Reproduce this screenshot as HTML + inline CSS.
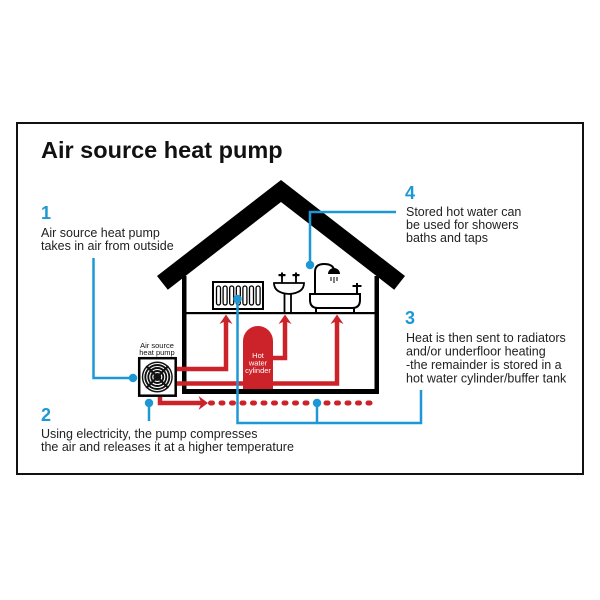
<!DOCTYPE html>
<html><head><meta charset="utf-8"><style>
html,body{margin:0;padding:0;background:#fff;}
svg{display:block;}
text{font-family:"Liberation Sans",Arial,sans-serif;}
</style></head><body>
<svg width="600" height="600" viewBox="0 0 600 600" xmlns="http://www.w3.org/2000/svg">
<rect x="0" y="0" width="600" height="600" fill="#fff"/>
<rect x="17" y="123" width="566" height="351" fill="none" stroke="#111" stroke-width="2"/>

<text x="41" y="158" font-size="23.5" font-weight="bold" fill="#111">Air source heat pump</text>

<!-- text 1 -->
<text x="41" y="219" font-size="18" font-weight="bold" fill="#1e98d4">1</text>
<text x="41" y="237" font-size="12.5" fill="#222">Air source heat pump</text>
<text x="41" y="250" font-size="12.5" fill="#222">takes in air from outside</text>

<!-- text 4 -->
<text x="405" y="199" font-size="18" font-weight="bold" fill="#1e98d4">4</text>
<text x="406" y="216" font-size="12.5" fill="#222">Stored hot water can</text>
<text x="406" y="229" font-size="12.5" fill="#222">be used for showers</text>
<text x="406" y="242" font-size="12.5" fill="#222">baths and taps</text>

<!-- text 3 -->
<text x="405" y="324" font-size="18" font-weight="bold" fill="#1e98d4">3</text>
<text x="406" y="342" font-size="12.5" fill="#222">Heat is then sent to radiators</text>
<text x="406" y="355.5" font-size="12.5" fill="#222">and/or underfloor heating</text>
<text x="406" y="369" font-size="12.5" fill="#222">-the remainder is stored in a</text>
<text x="406" y="382.5" font-size="12.5" fill="#222">hot water cylinder/buffer tank</text>

<!-- text 2 -->
<text x="41" y="421" font-size="18" font-weight="bold" fill="#1e98d4">2</text>
<text x="41" y="438" font-size="12.5" fill="#222">Using electricity, the pump compresses</text>
<text x="41" y="451" font-size="12.5" fill="#222">the air and releases it at a higher temperature</text>

<!-- roof -->
<polygon points="157,276 281,180 405,276 394.2,289.7 281,202 167.8,289.7" fill="#000"/>
<!-- walls -->
<rect x="182" y="276" width="4.5" height="118" fill="#000"/>
<rect x="374.5" y="276" width="4.5" height="118" fill="#000"/>
<rect x="182" y="389" width="197" height="5" fill="#000"/>
<rect x="186" y="312" width="189" height="2.2" fill="#000"/>

<!-- radiator -->
<rect x="213" y="282" width="50" height="27" fill="#fff" stroke="#000" stroke-width="2"/>
<g fill="none" stroke="#000" stroke-width="1.3">
<rect x="216.5" y="286" width="4" height="19" rx="2"/>
<rect x="223.1" y="286" width="4" height="19" rx="2"/>
<rect x="229.7" y="286" width="4" height="19" rx="2"/>
<rect x="236.3" y="286" width="4" height="19" rx="2"/>
<rect x="242.9" y="286" width="4" height="19" rx="2"/>
<rect x="249.5" y="286" width="4" height="19" rx="2"/>
<rect x="256.1" y="286" width="4" height="19" rx="2"/>
</g>

<!-- sink -->
<g fill="none" stroke="#000" stroke-width="1.8">
<path d="M274,283 H304 Q304,293 289,294 Q274,293 274,283 Z" fill="#fff"/>
<path d="M284.5,294 V312 M291,294 V312"/>
<path d="M282,283 V277 M296,283 V277"/>
</g>
<g fill="#000">
<rect x="278.5" y="274" width="7" height="2.2"/>
<rect x="292.5" y="274" width="7" height="2.2"/>
<rect x="281" y="272.5" width="2" height="5"/>
<rect x="295" y="272.5" width="2" height="5"/>
</g>

<!-- bath -->
<g fill="none" stroke="#000" stroke-width="2">
<path d="M310,294 H360 V300 Q360,308 352,308 H318 Q310,308 310,300 Z" fill="#fff"/>
<path d="M316,308 V312 M354,308 V312"/>
<path d="M315,294 V272 Q315,264 324,264 Q333,264 334,270"/>
<path d="M357,294 V287"/>
</g>
<path d="M328,274 A6,6 0 0 1 340,274 Z" fill="#000"/>
<g stroke="#000" stroke-width="1">
<path d="M331,277 V281 M334,277 V283 M337,277 V281"/>
</g>
<g fill="#000">
<rect x="352.5" y="285" width="9" height="2"/>
<rect x="356" y="283" width="2" height="4"/>
</g>

<!-- red pipes -->
<g fill="none" stroke="#cc2229" stroke-width="4.5">
<path d="M175,369 H226 V320"/>
<path d="M175,383.5 H337 V320"/>
<path d="M272,358 H285 V320"/>
<path d="M160,396 V403 H202"/>
</g>
<path d="M210.5,403 H376" fill="none" stroke="#cc2229" stroke-width="5" stroke-dasharray="2 8.5" stroke-linecap="round"/>
<g fill="#cc2229">
<polygon points="226,314.5 232.5,324 226,321 219.5,324"/>
<polygon points="285,314.5 291.5,324 285,321 278.5,324"/>
<polygon points="337,314.5 343.5,324 337,321 330.5,324"/>
<polygon points="208,403 198.5,396 201.5,403 198.5,410"/>
</g>
<!-- cylinder -->
<path d="M243,389 V341 A15,15 0 0 1 273,341 V389 Z" fill="#cc2229"/>
<g fill="#fff" font-size="7.5" text-anchor="middle">
<text x="258" y="358">Hot</text>
<text x="258" y="365.5">water</text>
<text x="258" y="373">cylinder</text>
</g>

<!-- heat pump -->
<g font-size="7.5" fill="#111" text-anchor="middle">
<text x="157" y="348">Air source</text>
<text x="157" y="355">heat pump</text>
</g>
<rect x="139.2" y="358.2" width="36.5" height="37.5" fill="#fff" stroke="#000" stroke-width="2.5"/>
<circle cx="157.3" cy="377" r="15.5" fill="#111"/>
<g fill="none" stroke="#fff" stroke-width="1.1">
<circle cx="157.3" cy="377" r="13.5"/>
<circle cx="157.3" cy="377" r="10.5"/>
<circle cx="157.3" cy="377" r="7.5"/>
<circle cx="157.3" cy="377" r="4.5"/>
</g>
<g stroke="#111" stroke-width="2.2">
<path d="M146.3,366 L168.3,388 M168.3,366 L146.3,388"/>
</g>
<rect x="155.5" y="375.2" width="3.6" height="3.6" fill="#111"/>

<!-- blue connectors -->
<g fill="none" stroke="#1e98d4" stroke-width="2.5">
<path d="M93.5,258 V378 H132"/>
<path d="M149,403 V421"/>
<path d="M421,390 V423 H237.5 V299"/>
<path d="M317,423 V403"/>
<path d="M310,265 V212 H396"/>
</g>
<g fill="#1e98d4">
<circle cx="133" cy="378" r="4.2"/>
<circle cx="149" cy="403" r="4.2"/>
<circle cx="237.5" cy="299" r="4.2"/>
<circle cx="317" cy="403" r="4.2"/>
<circle cx="310" cy="265" r="4.2"/>
</g>
</svg>
</body></html>
